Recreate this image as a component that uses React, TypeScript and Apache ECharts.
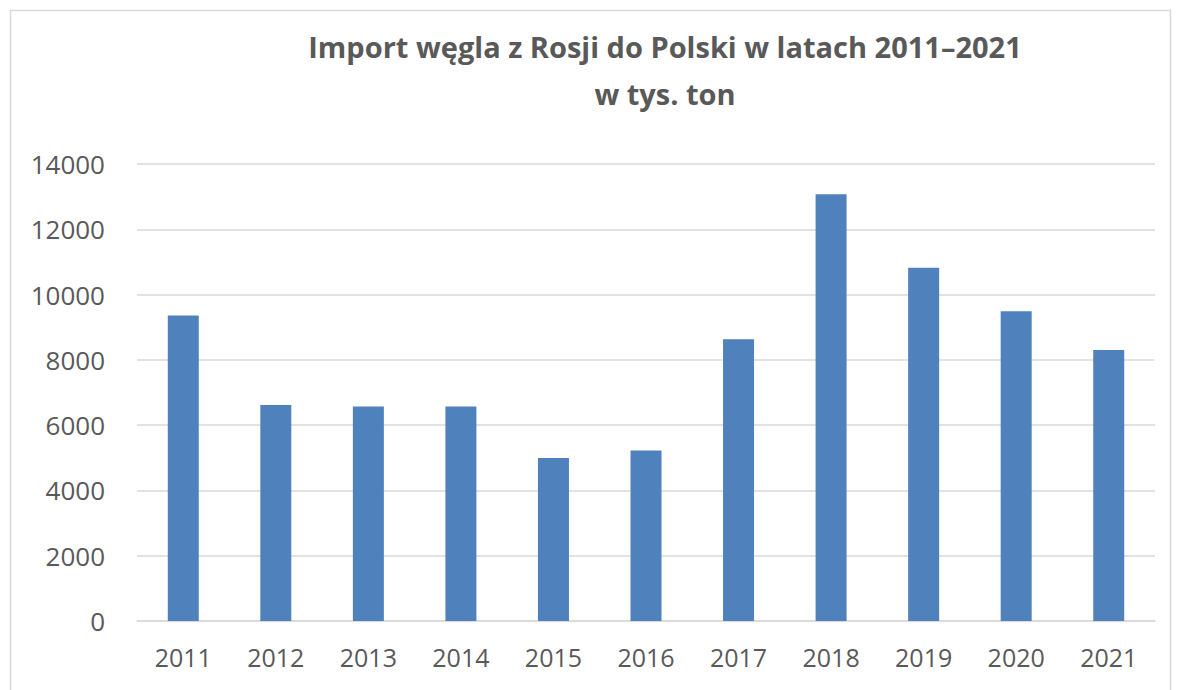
import React, { useEffect, useRef } from "react";
import * as echarts from "echarts";

const years = ["2011", "2012", "2013", "2014", "2015", "2016", "2017", "2018", "2019", "2020", "2021"];
const importValues = [9360, 6620, 6570, 6570, 4990, 5220, 8630, 13070, 10820, 9490, 8300];
const titleLines = ["Import węgla z Rosji do Polski w latach 2011–2021", "w tys. ton"];

export default function App() {
  const ref = useRef<HTMLDivElement>(null);
  useEffect(() => {
    if (!ref.current) return;
    const chart = echarts.init(ref.current, null, { renderer: "svg" });
    chart.setOption({
      animation: false,
      backgroundColor: "#ffffff",
      title: {
        text: titleLines.join("\n"),
        left: 660,
        top: 18,
        textAlign: "center",
        textStyle: {
          fontFamily: "Open Sans",
          fontWeight: "bold",
          fontSize: 29,
          color: "#595959",
          lineHeight: 47,
        },
      },
      graphic: [
        {
          type: "rect",
          shape: { x: 10.5, y: 10.5, width: 1160, height: 700 },
          style: { fill: "none", stroke: "#d9d9d9", lineWidth: 1.5 },
          silent: true,
        },
      ],
      grid: { left: 137, right: 23, top: 164, bottom: 69 },
      xAxis: {
        type: "category",
        data: years,
        axisLine: { show: true, lineStyle: { color: "#d9d9d9", width: 1.5 } },
        axisTick: { show: false },
        axisLabel: {
          fontFamily: "Open Sans",
          fontSize: 25,
          color: "#595959",
          margin: 23,
        },
      },
      yAxis: {
        type: "value",
        min: 0,
        max: 14000,
        interval: 2000,
        axisLine: { show: false },
        axisTick: { show: false },
        splitLine: { lineStyle: { color: "#d9d9d9", width: 1.5 } },
        axisLabel: {
          fontFamily: "Open Sans",
          fontSize: 26,
          color: "#595959",
          margin: 32,
          formatter: (v: number) => String(v),
        },
      },
      series: [
        {
          type: "bar",
          data: importValues,
          barWidth: 31,
          itemStyle: { color: "#4f81bd" },
        },
      ],
    });
    return () => chart.dispose();
  }, []);
  return (
    <div
      ref={ref}
      style={{ position: "absolute", left: 0, top: 0, width: 1178, height: 690 }}
    />
  );
}
